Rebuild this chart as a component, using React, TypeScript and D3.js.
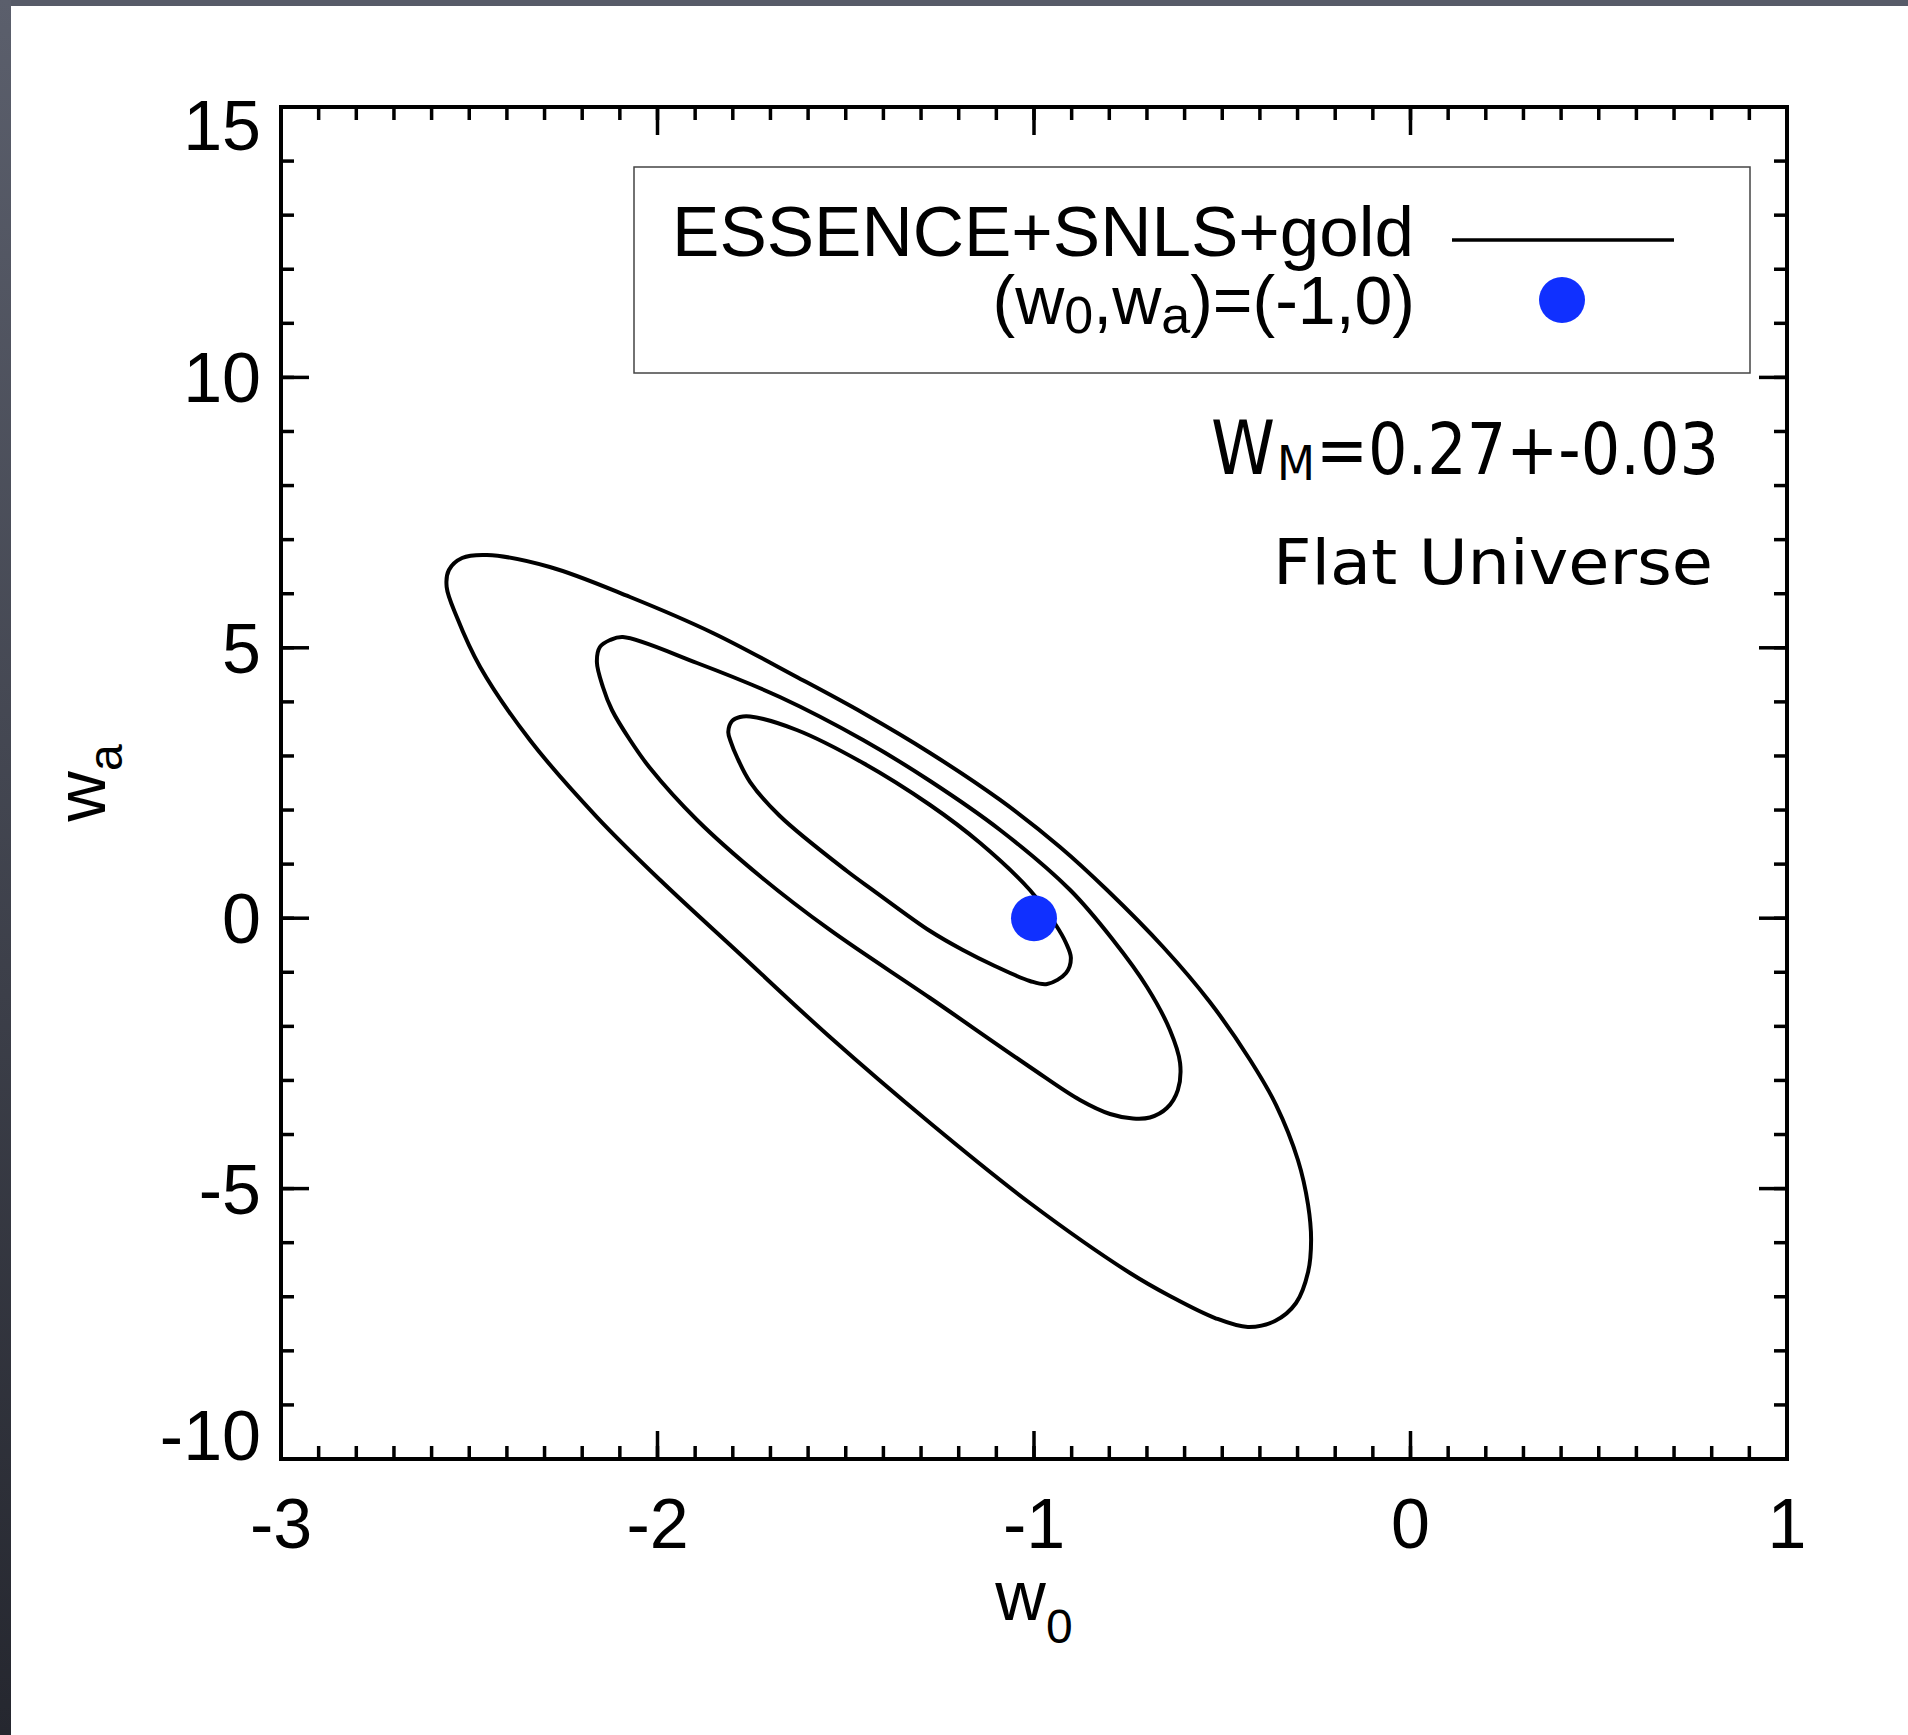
import React from 'react';
import * as d3 from 'd3';

// contour outlines, as [w0, wa]
const outerContour: [number, number][] = [
  [-2.560, 6.124], [-2.554, 6.439], [-2.519, 6.660], [-2.453, 6.716], [-2.286, 6.494],
  [-2.073, 5.939], [-1.853, 5.274], [-1.630, 4.460], [-1.454, 3.794], [-1.276, 3.055],
  [-1.090, 2.186], [-0.931, 1.317], [-0.806, 0.521], [-0.657, -0.533], [-0.533, -1.550],
  [-0.426, -2.622], [-0.357, -3.455], [-0.299, -4.471], [-0.272, -5.303], [-0.264, -5.950],
  [-0.272, -6.542], [-0.304, -7.115], [-0.360, -7.448], [-0.432, -7.559], [-0.519, -7.393],
  [-0.639, -6.986], [-0.745, -6.561], [-1.011, -5.266], [-1.276, -3.787], [-1.542, -2.197],
  [-1.781, -0.662], [-1.993, 0.706], [-2.161, 1.871], [-2.339, 3.295], [-2.471, 4.645],
  [-2.533, 5.569],
];

const middleContour: [number, number][] = [
  [-2.161, 4.737], [-2.153, 5.015], [-2.126, 5.144], [-2.092, 5.200], [-1.895, 4.719],
  [-1.675, 4.090], [-1.454, 3.295], [-1.276, 2.537], [-1.090, 1.631], [-0.904, 0.521],
  [-0.790, -0.403], [-0.700, -1.272], [-0.639, -2.067], [-0.612, -2.678], [-0.618, -3.177],
  [-0.647, -3.510], [-0.692, -3.685], [-0.737, -3.704], [-0.798, -3.621], [-0.878, -3.362],
  [-1.011, -2.751], [-1.276, -1.476], [-1.542, -0.218], [-1.728, 0.780], [-1.895, 1.816],
  [-2.020, 2.777], [-2.073, 3.295], [-2.121, 3.850], [-2.145, 4.275],
];

const innerContour: [number, number][] = [
  [-1.812, 3.443], [-1.802, 3.646], [-1.781, 3.720], [-1.754, 3.730], [-1.630, 3.480],
  [-1.454, 2.870], [-1.276, 2.093], [-1.143, 1.390], [-1.011, 0.521], [-0.942, -0.126],
  [-0.915, -0.459], [-0.902, -0.736], [-0.915, -1.013], [-0.965, -1.217], [-1.011, -1.161],
  [-1.104, -0.884], [-1.189, -0.588], [-1.276, -0.237], [-1.428, 0.521], [-1.497, 0.873],
  [-1.675, 1.890], [-1.754, 2.518], [-1.789, 2.981], [-1.805, 3.258],
];

const contours = [outerContour, middleContour, innerContour];

const fiducial: [number, number] = [-1, 0];

const xMajor = [-3, -2, -1, 0, 1];
const xTickLabels = ['-3', '-2', '-1', '0', '1'];
const yMajor = [-10, -5, 0, 5, 10, 15];
const yTickLabels = ['-10', '-5', '0', '5', '10', '15'];
const xMinor = d3.range(-3, 1.0001, 0.1);
const yMinor = d3.range(-10, 15.0001, 1);

const legendLine = 'ESSENCE+SNLS+gold';
const annotation1 = '=0.27+-0.03';
const annotation2 = 'Flat Universe';

const W = 1908;
const H = 1735;
const left = 281, right = 1787, top = 107, bottom = 1459;
const majorLen = 28, minorLen = 13;
const BLUE = '#1030ff';
const sans = '"Liberation Sans", Arial, Helvetica, sans-serif';
const comic = '"DejaVu Sans", sans-serif';

const App = () => {
  const x = d3.scaleLinear().domain([-3, 1]).range([left, right]);
  const y = d3.scaleLinear().domain([-10, 15]).range([bottom, top]);

  const line = d3.line<[number, number]>()
    .x(d => x(d[0]))
    .y(d => y(d[1]))
    .curve(d3.curveCatmullRomClosed.alpha(0.5));

  // IDL keeps the end labels inside the axis span
  const yLabelBase = (v: number) => Math.max(150, Math.min(1460, y(v) + 25));

  return (
    <svg width={W} height={H} style={{position: 'absolute', left: 0, top: 0, display: 'block'}}>
      <defs>
        <linearGradient id="edge" x1="0" y1="0" x2="0" y2="1">
          <stop offset="0%" stopColor="#5b5f6c" />
          <stop offset="100%" stopColor="#25272f" />
        </linearGradient>
      </defs>
      <rect x={0} y={0} width={W} height={H} fill="#fff" />
      <rect x={0} y={0} width={W} height={6} fill="#575b68" />
      <rect x={0} y={0} width={11} height={H} fill="url(#edge)" />

      {/* contours */}
      <g fill="none" stroke="#000" strokeWidth={4} strokeLinejoin="round">
        {contours.map((c, i) => <path key={i} d={line(c) || ''} />)}
      </g>
      <circle cx={x(fiducial[0])} cy={y(fiducial[1])} r={23} fill={BLUE} />

      {/* ticks, mirrored on all four sides */}
      <g stroke="#000" strokeWidth={3.5}>
        {xMinor.map((v, i) => (
          <g key={'xm' + i}>
            <line x1={x(v)} x2={x(v)} y1={bottom} y2={bottom - minorLen} />
            <line x1={x(v)} x2={x(v)} y1={top} y2={top + minorLen} />
          </g>
        ))}
        {xMajor.map((v, i) => (
          <g key={'xM' + i}>
            <line x1={x(v)} x2={x(v)} y1={bottom} y2={bottom - majorLen} />
            <line x1={x(v)} x2={x(v)} y1={top} y2={top + majorLen} />
          </g>
        ))}
        {yMinor.map((v, i) => (
          <g key={'ym' + i}>
            <line x1={left} x2={left + minorLen} y1={y(v)} y2={y(v)} />
            <line x1={right} x2={right - minorLen} y1={y(v)} y2={y(v)} />
          </g>
        ))}
        {yMajor.map((v, i) => (
          <g key={'yM' + i}>
            <line x1={left} x2={left + majorLen} y1={y(v)} y2={y(v)} />
            <line x1={right} x2={right - majorLen} y1={y(v)} y2={y(v)} />
          </g>
        ))}
      </g>
      <rect x={left} y={top} width={right - left} height={bottom - top}
            fill="none" stroke="#000" strokeWidth={4} />

      {/* tick labels */}
      <g fontFamily={sans} fontSize={70} fill="#000">
        {xMajor.map((v, i) => (
          <text key={'xl' + i} x={x(v)} y={1548} textAnchor="middle">{xTickLabels[i]}</text>
        ))}
        {yMajor.map((v, i) => (
          <text key={'yl' + i} x={261} y={yLabelBase(v)} textAnchor="end">{yTickLabels[i]}</text>
        ))}
      </g>

      {/* axis titles */}
      <text x={(left + right) / 2} y={1620} textAnchor="middle" fontFamily={sans} fontSize={70}>
        w<tspan fontSize={48} dy={23}>0</tspan>
      </text>
      <text transform={`translate(105,${(top + bottom) / 2}) rotate(-90)`} textAnchor="middle"
            fontFamily={sans} fontSize={70}>
        w<tspan fontSize={48} dy={17}>a</tspan>
      </text>

      {/* legend */}
      <rect x={634} y={167} width={1116} height={206} fill="none" stroke="#444" strokeWidth={1.5} />
      <text x={1414} y={256} textAnchor="end" fontFamily={sans} fontSize={71}>{legendLine}</text>
      <line x1={1452} x2={1674} y1={240} y2={240} stroke="#000" strokeWidth={3.5} />
      <text x={1415} y={324} textAnchor="end" fontFamily={sans} fontSize={68}>
        (w<tspan fontSize={52} dy={9}>0</tspan><tspan dy={-9}>,w</tspan><tspan fontSize={52} dy={9}>a</tspan><tspan dy={-9}>)=(-1,0)</tspan>
      </text>
      <circle cx={1562} cy={300} r={23} fill={BLUE} />

      {/* annotations */}
      <text x={1211} y={474} fontFamily={comic} fontSize={74} textLength={64} lengthAdjust="spacingAndGlyphs">W</text>
      <text x={1277} y={480} fontFamily={comic} fontSize={48} textLength={38} lengthAdjust="spacingAndGlyphs">M</text>
      <text x={1316} y={474} fontFamily={comic} fontSize={72} textLength={403} lengthAdjust="spacingAndGlyphs">{annotation1}</text>
      <text x={1273} y={584} fontFamily={comic} fontSize={63} textLength={440} lengthAdjust="spacingAndGlyphs">{annotation2}</text>
    </svg>
  );
};

export default App;
